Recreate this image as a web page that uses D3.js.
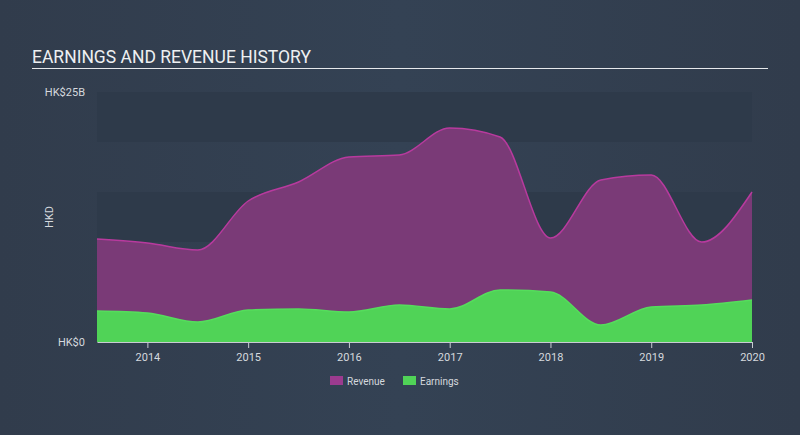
<!DOCTYPE html>
<html><head><meta charset="utf-8">
<script src="https://cdn.jsdelivr.net/npm/d3@7"></script>
<style>
html,body{margin:0;padding:0;background:#333f50;}
svg{display:block;font-family:Roboto,"Open Sans",sans-serif;}
</style></head>
<body>
<svg id="chart" width="800" height="435"></svg>
<script>
const dates = [2013.5,2014.0,2014.5,2015.0,2015.5,2016.0,2016.5,2017.0,2017.5,2018.0,2018.5,2019.0,2019.5,2020.0];
const revenue = [10.3,9.9,9.2,14.1,16.0,18.5,18.7,21.4,20.5,10.4,16.2,16.7,10.0,15.0];
const earnings = [3.1,2.9,2.0,3.2,3.3,3.0,3.7,3.3,5.2,5.0,1.7,3.5,3.7,4.2];
const xTicks = [2014,2015,2016,2017,2018,2019,2020];
const yTickLabels = ["HK$0","HK$25B"];
const seriesNames = ["Revenue","Earnings"];

const svg = d3.select("#chart");
const W=800,H=435;
const m={left:97,right:48,top:92,bottom:93};
const x = d3.scaleLinear().domain([2013.5,2020.0]).range([m.left,W-m.right]);
const y = d3.scaleLinear().domain([0,25]).range([H-m.bottom,m.top]);

// background
const bg = svg.append("defs").append("linearGradient").attr("id","bgg").attr("x1",0).attr("x2",1);
bg.append("stop").attr("offset","0%").attr("stop-color","#313c4c");
bg.append("stop").attr("offset","50%").attr("stop-color","#344254");
bg.append("stop").attr("offset","100%").attr("stop-color","#313c4c");
svg.append("rect").attr("width",W).attr("height",H).attr("fill","url(#bgg)");

// bands
[[20,25],[10,15],[0,5]].forEach(b=>{
  svg.append("rect").attr("x",x(2013.5)).attr("width",x(2020)-x(2013.5))
    .attr("y",y(b[1])).attr("height",y(b[0])-y(b[1])).attr("fill","#2e3a4a");
});

// title
svg.append("text").attr("x",32).attr("y",63).attr("fill","#eef0f2").attr("font-size",17.5)
  .text("EARNINGS AND REVENUE HISTORY");
svg.append("line").attr("x1",32).attr("x2",768).attr("y1",68.5).attr("y2",68.5)
  .attr("stroke","#e6e8eb").attr("stroke-width",1);

const rev = dates.map((d,i)=>({d,v:revenue[i]}));
const ear = dates.map((d,i)=>({d,v:earnings[i]}));
const curve = d3.curveMonotoneX;
const area = d3.area().x(p=>x(p.d)).y0(y(0)).y1(p=>y(p.v)).curve(curve);
const line = d3.line().x(p=>x(p.d)).y(p=>y(p.v)).curve(curve);

svg.append("path").datum(rev).attr("d",area).attr("fill","#7a3a77");
svg.append("path").datum(rev).attr("d",line).attr("fill","none").attr("stroke","#b83a9e").attr("stroke-width",1.5);
svg.append("path").datum(ear).attr("d",area).attr("fill","#50d357");
svg.append("path").datum(ear).attr("d",line).attr("fill","none").attr("stroke","#55dd5c").attr("stroke-width",1.5);

// x axis
const xa = svg.append("g").attr("transform",`translate(0,${y(0)})`)
  .call(d3.axisBottom(x).tickValues(xTicks).tickFormat(d3.format("d")).tickSize(6).tickSizeOuter(0));
xa.select(".domain").attr("stroke","#c8ccd2");
xa.selectAll(".tick line").attr("stroke","#c8ccd2");
xa.selectAll(".tick text").attr("fill","#d5d9de").attr("font-size",11).attr("font-family","Roboto,sans-serif").attr("dy","0.95em");

// y labels
svg.append("text").attr("x",85).attr("y",y(25)+4).attr("text-anchor","end").attr("fill","#d5d9de").attr("font-size",11).text(yTickLabels[1]);
svg.append("text").attr("x",85).attr("y",y(0)+4).attr("text-anchor","end").attr("fill","#d5d9de").attr("font-size",11).text(yTickLabels[0]);
svg.append("text").attr("transform",`translate(53,217) rotate(-90)`).attr("text-anchor","middle")
  .attr("fill","#d5d9de").attr("font-size",11).text("HKD");

// legend
const lg = [{n:seriesNames[0],c:"#9c3b8f",x:330},{n:seriesNames[1],c:"#50d357",x:403}];
lg.forEach(l=>{
  svg.append("rect").attr("x",l.x).attr("y",376).attr("width",13).attr("height",9).attr("fill",l.c);
  svg.append("text").attr("x",l.x+17).attr("y",385).attr("fill","#d5d9de").attr("font-size",10).text(l.n);
});
</script>
</body></html>
